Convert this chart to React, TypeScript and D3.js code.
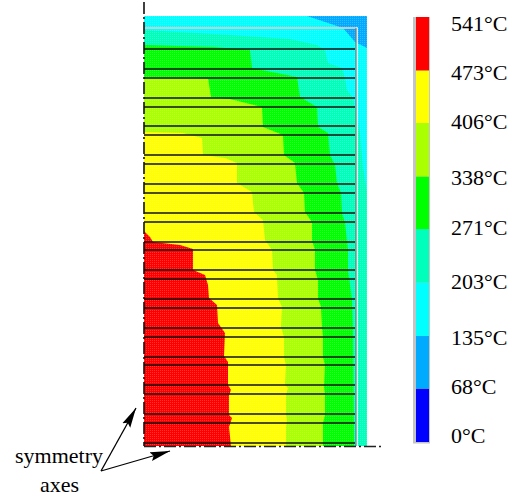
import * as d3 from 'd3';

// temperature bands, coldest first
const bandEdges = [0, 68, 135, 203, 271, 338, 406, 473, 541];
const bandColors = ['#0000ff', '#00aaff', '#00ffff', '#00ffbb', '#00ff00', '#aaff00', '#ffff00', '#ff0000'];
const tickTemps = [541, 473, 406, 338, 271, 203, 135, 68, 0];

const iso135: [number, number][] = [[163, 430], [199, 418], [211, 404], [223, 398]];
const iso203: [number, number][] = [[0, 416], [86, 411], [146, 407], [173, 401], [181, 396], [184, 383], [198, 378], [201, 368], [203, 356], [209, 348], [216, 313], [219, 279], [223, 253]];
const iso271: [number, number][] = [[0, 401], [69, 399], [106, 396], [108, 378], [153, 369], [156, 349], [173, 339], [174, 319], [184, 313], [186, 291], [191, 281], [193, 263], [197, 253], [198, 233], [201, 223], [204, 196], [204, 176], [208, 146], [209, 119], [210, 0]];
const iso338: [number, number][] = [[0, 369], [46, 369], [64, 368], [67, 349], [86, 347], [118, 339], [119, 319], [139, 311], [140, 291], [151, 283], [153, 263], [160, 253], [161, 234], [168, 224], [168, 206], [171, 196], [171, 176], [174, 166], [174, 148], [177, 139], [178, 119], [179, 109], [179, 89], [181, 81], [180, 59], [181, 51], [181, 31], [179, 23], [179, 0]];
const iso406: [number, number][] = [[0, 314], [39, 313], [58, 308], [59, 291], [81, 288], [93, 283], [93, 263], [108, 254], [110, 234], [119, 226], [121, 206], [128, 196], [129, 176], [133, 171], [134, 148], [138, 139], [137, 119], [140, 109], [140, 89], [142, 81], [141, 61], [144, 58], [142, 51], [142, 31], [143, 26], [142, 19], [142, 0]];
const iso473: [number, number][] = [[0, 215], [6, 209], [9, 204], [36, 201], [49, 197], [49, 176], [61, 171], [64, 161], [65, 148], [73, 141], [74, 123], [81, 113], [80, 90], [84, 84], [84, 61], [87, 56], [85, 51], [85, 31], [88, 28], [85, 19], [87, 0]];

// heights of the black horizontal lines
const barHeights = [397, 377, 368, 348, 339, 320, 311, 291, 282, 262, 253, 233, 224, 204, 196, 176, 167, 147, 138, 118, 109, 89, 81, 61, 52, 32, 23, 3];

const width = 524;
const height = 499;
const serif = '"Liberation Serif", "Times New Roman", serif';

const x = d3.scaleLinear().domain([0, 223]).range([144, 367]);
const y = d3.scaleLinear().domain([0, 430]).range([446, 16]);
const legendY = d3.scaleLinear().domain([0, 541]).range([442, 17]);
// the labels are not quite evenly spaced in the original
const labelY = d3.scaleLinear()
  .domain([...tickTemps])
  .range([31, 80, 129, 185, 235, 289, 345, 394, 443]);
const color = d3.scaleThreshold<number, string>().domain(bandEdges.slice(1, -1)).range(bandColors);

const line = d3.line<[number, number]>().x(d => x(d[0])).y(d => y(d[1]));

// hot side of an isotherm is the lower left, so close it through the origin
const hotRegion = (pts: [number, number][]) => {
  const last = pts[pts.length - 1];
  return line([...pts, [last[0], 0], [0, 0]]) + 'Z';
};

const isotherms: [number, [number, number][]][] = [
  [203, iso203],
  [271, iso271],
  [338, iso338],
  [406, iso406],
  [473, iso473],
];

export default function App() {
  return (
    <svg width={width} height={height} style={{ position: 'absolute', left: 0, top: 0, display: 'block' }}>
      <defs>
        <marker id="head" markerUnits="userSpaceOnUse" markerWidth="22" markerHeight="12" refX="20" refY="5" orient="auto">
          <path d="M0,0.5 L20,5 L0,9.5 L3,5 Z" fill="#000" />
        </marker>
        {/* the mesh plot has a fine light dither over its colours */}
        <pattern id="dither" patternUnits="userSpaceOnUse" width={2} height={2}>
          <rect width={1} height={1} fill="#fff" opacity={0.2} />
        </pattern>
      </defs>

      {/* section */}
      <g>
        <rect x={x(0)} y={y(430)} width={x(223) - x(0)} height={y(0) - y(430)} fill={color(136)} />
        <path d={line([...iso135, [223, 430]]) + 'Z'} fill={color(70)} />
        {isotherms.map(([t, pts]) => (
          <path key={t} d={hotRegion(pts)} fill={color(t + 1)} />
        ))}
        {/* spring green strip along the outer edge, below where the isotherm meets it */}
        <path d={line([[212, 276], [223, 253], [223, 0], [212, 0]]) + 'Z'} fill={color(204)} />
        <rect x={x(0)} y={y(430)} width={x(223) - x(0)} height={y(0) - y(430)} fill="url(#dither)" />
      </g>

      {/* outline of the inner section */}
      <path d={line([[0, 418], [213, 418], [213, 0]])!} fill="none" stroke="#fff" strokeWidth={1.6} />
      <path d={line([[0, 418], [212, 418]])!} fill="none" stroke="#c0c0c0" strokeWidth={1.4} />
      <path d={line([[212, 418], [212, 0]])!} fill="none" stroke="#777" strokeWidth={1.2} />

      {barHeights.map(h => (
        <line key={h} x1={x(0)} x2={x(211)} y1={y(h)} y2={y(h)} stroke="#111" strokeWidth={1.5} />
      ))}

      {/* symmetry axes */}
      <line x1={144} x2={144} y1={2} y2={446} stroke="#111" strokeWidth={1.6} strokeDasharray="12 3 2 3" />
      <line x1={144} x2={381} y1={446.5} y2={446.5} stroke="#222" strokeWidth={1.6} strokeDasharray="12 3 2 3" />

      {/* legend */}
      <rect x={413} y={legendY(541)} width={17} height={legendY(0) - legendY(541) + 1.5} fill="#c4c4c4" />
      {bandColors.map((c, i) => (
        <rect
          key={c}
          x={416}
          y={legendY(bandEdges[i + 1])}
          width={13}
          height={legendY(bandEdges[i]) - legendY(bandEdges[i + 1])}
          fill={c}
        />
      ))}
      {tickTemps.map(t => (
        <text key={t} x={451} y={labelY(t)} fontFamily={serif} fontSize={22} fill="#000">
          {t}°C
        </text>
      ))}

      {/* annotation */}
      <text x={15} y={463} fontFamily={serif} fontSize={22} fill="#000">symmetry</text>
      <text x={40} y={492} fontFamily={serif} fontSize={22} fill="#000">axes</text>
      <line x1={101} y1={471} x2={136} y2={408} stroke="#000" strokeWidth={1.3} markerEnd="url(#head)" />
      <line x1={101} y1={471} x2={170} y2={451} stroke="#000" strokeWidth={1.3} markerEnd="url(#head)" />
    </svg>
  );
}
